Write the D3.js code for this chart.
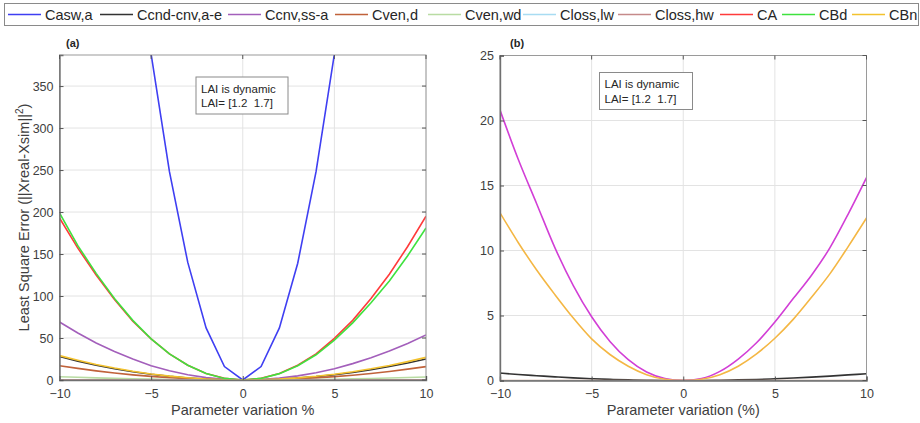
<!DOCTYPE html>
<html><head><meta charset="utf-8">
<script src="https://cdn.jsdelivr.net/npm/d3@7/dist/d3.min.js"></script>
<style>body{margin:0;background:#fff}svg{display:block;font-family:"Liberation Sans",Arial,sans-serif}text{white-space:pre}</style>
</head><body><svg id="c" width="920" height="423"></svg>
<script>
const xValues = [-10,-9,-8,-7,-6,-5,-4,-3,-2,-1,0,1,2,3,4,5,6,7,8,9,10];
const legendNames = ["Casw,a","Ccnd-cnv,a-e","Ccnv,ss-a","Cven,d","Cven,wd","Closs,lw","Closs,hw","CA","CBd","CBn"];
const legendColors = ["#3f3ff2","#333333","#a35fbb","#c0623a","#b9dca3","#a8dcf2","#c58a8a","#ff3b3b","#3fe23f","#f3c22e"];
// panel (a) series
const aCaswA   = [1560,1262,995,762,558,388,248,140,62,16,0,16,62,139,248,388,558,762,995,1262,1560];
const aCcndCnv = [28,22.5,17.6,13.4,9.8,6.8,4.3,2.4,1.1,0.3,0,0.25,1,2.3,4,6.3,9,12.3,16,20.3,25];
const aCcnvSs  = [69,56,44,34,25,17,11,6.2,2.8,0.7,0,0.55,2.2,4.9,8.7,13.5,19.5,26.5,34.5,43.5,53.6];
const aCvenD   = [17,13.8,10.9,8.3,6.1,4.3,2.7,1.5,0.7,0.17,0,0.16,0.64,1.43,2.5,4,5.7,7.8,10.2,12.9,15.9];
const aCvenWd  = [3.9,3.2,2.5,1.9,1.4,1,0.62,0.35,0.16,0.04,0,0.04,0.15,0.33,0.6,0.9,1.3,1.8,2.3,2.9,3.6];
const aClossLw = [0.3,0.25,0.2,0.15,0.1,0.07,0.05,0.03,0.01,0,0,0,0.01,0.03,0.05,0.07,0.1,0.15,0.2,0.25,0.3];
const aClossHw = [0.2,0.16,0.13,0.1,0.07,0.05,0.03,0.02,0.01,0,0,0,0.01,0.02,0.03,0.05,0.07,0.1,0.13,0.16,0.2];
const aCA      = [193,157,125,96,70,49,31,17.5,7.8,2,0,2,7.8,17.5,31,49.6,71,97,126,159,195];
const aCBd     = [199,160,127,97,71,49,31,17.5,7.8,1.9,0,1.9,7.6,17,30,47.5,68,92,118,148,181];
const aCBn     = [29,23.5,18.5,14.2,10.4,7.2,4.6,2.6,1.15,0.3,0,0.28,1.1,2.5,4.4,6.8,9.8,13.3,17.3,21.9,27];
// panel (b) series
const bBlack   = [0.57,0.46,0.37,0.28,0.2,0.14,0.09,0.05,0.02,0.005,0,0.005,0.02,0.05,0.08,0.13,0.19,0.26,0.34,0.43,0.52];
const bMagenta = [20.8,17.0,13.6,10.2,7.3,4.9,3.0,1.6,0.65,0.15,0,0.15,0.7,1.65,2.9,4.5,6.3,8.1,10.2,12.8,15.6];
const bOrange  = [12.9,10.6,8.5,6.6,4.8,3.2,2.0,1.1,0.45,0.1,0,0.1,0.45,1.1,2.05,3.25,4.7,6.4,8.2,10.3,12.5];
const bZero    = [0,0,0,0,0,0,0,0,0,0,0,0,0,0,0,0,0,0,0,0,0];
const bColors  = ["#333333","#d23fd6","#f4b744","#c59a88"];
const xTicks = [-10,-5,0,5,10];
const aYTicks = [0,50,100,150,200,250,300,350];
const bYTicks = [0,5,10,15,20,25];
const noteLines = ["LAI is dynamic","LAI= [1.2  1.7]"];

const svg = d3.select("#c");
const tickCol = "#404040";

function panel(o){
  const x = d3.scaleLinear().domain([-10,10]).range([o.x0,o.x1]);
  const y = d3.scaleLinear().domain(o.yDom).range([o.y1,o.y0]);
  const g = svg.append("g");
  g.selectAll(".gx").data(xTicks).join("line").attr("x1",d=>x(d)).attr("x2",d=>x(d))
    .attr("y1",o.y0).attr("y2",o.y1).attr("stroke","#e3e3e3").attr("stroke-width",1);
  g.selectAll(".gy").data(o.yTicks).join("line").attr("y1",d=>y(d)).attr("y2",d=>y(d))
    .attr("x1",o.x0).attr("x2",o.x1).attr("stroke","#e3e3e3").attr("stroke-width",1);
  const cid = "clip"+o.id;
  svg.append("clipPath").attr("id",cid).append("rect")
    .attr("x",o.x0).attr("y",o.y0).attr("width",o.x1-o.x0).attr("height",o.y1-o.y0);
  const line = d3.line().x((d,i)=>x(xValues[i])).y(d=>y(d)).curve(o.curve);
  const lg = g.append("g").attr("clip-path",`url(#${cid})`);
  o.series.forEach((s,i)=>{
    lg.append("path").attr("d",line(s)).attr("fill","none")
      .attr("stroke",o.colors[i]).attr("stroke-width",1.6);
  });
  g.append("rect").attr("x",o.x0).attr("y",o.y0).attr("width",o.x1-o.x0).attr("height",o.y1-o.y0)
    .attr("fill","none").attr("stroke","#9a9a9a").attr("stroke-width",1);
  const ax = g.append("g").attr("transform",`translate(0,${o.y1})`)
    .call(d3.axisBottom(x).tickValues(xTicks).tickSize(-4).tickPadding(9).tickFormat(d3.format("d")));
  const ay = g.append("g").attr("transform",`translate(${o.x0},0)`)
    .call(d3.axisLeft(y).tickValues(o.yTicks).tickSize(-4).tickPadding(6).tickFormat(d3.format("d")));
  [ax,ay].forEach(a=>{
    a.select(".domain").attr("stroke","#707070").attr("stroke-width",1.4);
    a.selectAll(".tick line").attr("stroke","#555");
    a.selectAll("text").attr("fill",tickCol).style("font-size","12.5px").style("font-family","'Liberation Sans',Arial,sans-serif");
  });
  g.selectAll(".tt").data(xTicks).join("line").attr("x1",d=>x(d)).attr("x2",d=>x(d))
    .attr("y1",o.y0).attr("y2",o.y0+4).attr("stroke","#555");
  g.selectAll(".tr").data(o.yTicks).join("line").attr("y1",d=>y(d)).attr("y2",d=>y(d))
    .attr("x1",o.x1).attr("x2",o.x1-4).attr("stroke","#555");
  g.append("text").attr("x",(o.x0+o.x1)/2).attr("y",415).attr("text-anchor","middle")
    .attr("fill","#404040").style("font-size","14.5px").text(o.xLabel);
  g.append("text").attr("x",o.tagX).attr("y",47).attr("fill","#262626")
    .style("font-size","11px").style("font-weight","bold").text(o.tag);
  g.append("rect").attr("x",o.bx).attr("y",o.by).attr("width",o.bw).attr("height",37)
    .attr("fill","#fff").attr("stroke","#8a8a8a").attr("stroke-width",1);
  noteLines.forEach((t,i)=>{
    g.append("text").attr("x",o.bx+5).attr("y",o.by+15.5+i*14.5).attr("fill","#262626")
      .attr("xml:space","preserve").style("font-size","11.5px").text(t);
  });
  return {x,y};
}

panel({id:"a",x0:59.5,x1:426,y0:55,y1:380,yDom:[0,387],yTicks:aYTicks,
  series:[aCaswA,aCcndCnv,aCcnvSs,aCvenD,aCvenWd,aClossLw,aClossHw,aCA,aCBd,aCBn],
  colors:legendColors,xLabel:"Parameter variation %",tag:"(a)",tagX:66,bx:196,by:77,bw:92,curve:d3.curveLinear});
panel({id:"b",x0:500,x1:866.5,y0:55.5,y1:380.5,yDom:[0,25],yTicks:bYTicks,
  series:[bBlack,bMagenta,bOrange,bZero],
  colors:bColors,xLabel:"Parameter variation (%)",tag:"(b)",tagX:510,bx:599.5,by:72.5,bw:93,curve:d3.curveMonotoneX});

svg.append("text").attr("transform","translate(29,217.5) rotate(-90)").attr("text-anchor","middle")
  .attr("fill","#404040").style("font-size","14.5px")
  .html("Least Square Error (||Xreal-Xsim||<tspan dy='-6' style='font-size:10px'>2</tspan><tspan dy='6'>)</tspan>");

const lgX = [8,100,228,335,428,523,618,720,782,852];
const legend = svg.append("g");
legend.append("rect").attr("x",4.5).attr("y",3.5).attr("width",914).attr("height",22)
  .attr("fill","#fff").attr("stroke","#8a8a8a");
legendNames.forEach((n,i)=>{
  legend.append("line").attr("x1",lgX[i]).attr("x2",lgX[i]+33).attr("y1",14.5).attr("y2",14.5)
    .attr("stroke",legendColors[i]).attr("stroke-width",1.6);
  legend.append("text").attr("x",lgX[i]+37).attr("y",19.5).attr("fill","#262626")
    .style("font-size","14.5px").text(n);
});
</script></body></html>
